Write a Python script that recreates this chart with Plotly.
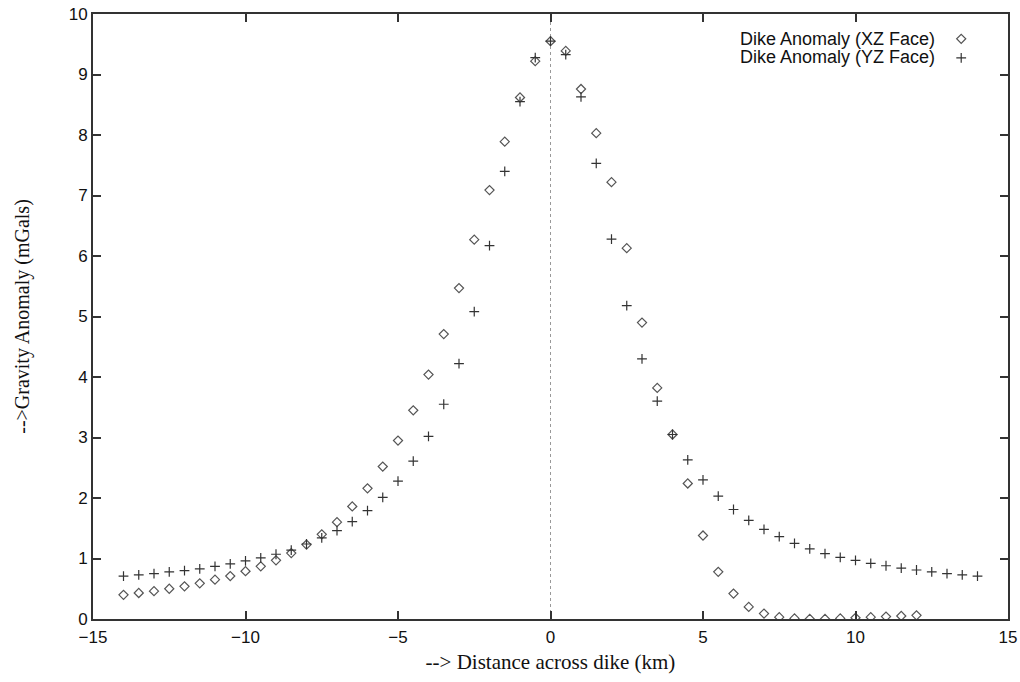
import plotly.graph_objects as go

x_xz = [-14 + 0.5 * i for i in range(53)]  # -14 .. 12
xz_vals = [0.40, 0.43, 0.46, 0.50, 0.54, 0.59, 0.65, 0.71, 0.79, 0.87,
           0.97, 1.09, 1.23, 1.40, 1.60, 1.86, 2.16, 2.52, 2.95, 3.45,
           4.04, 4.71, 5.47, 6.27, 7.09, 7.89, 8.62, 9.22, 9.55, 9.39,
           8.76, 8.03, 7.22, 6.13, 4.90, 3.82, 3.05, 2.24, 1.38, 0.78,
           0.42, 0.20, 0.09, 0.03, 0.01, 0.00, 0.00, 0.01, 0.02, 0.03,
           0.04, 0.05, 0.06]

x_yz = [-14 + 0.5 * i for i in range(57)]  # -14 .. 14
yz_vals = [0.71, 0.73, 0.75, 0.78, 0.80, 0.83, 0.87, 0.91, 0.96, 1.01,
           1.07, 1.14, 1.24, 1.34, 1.46, 1.61, 1.79, 2.01, 2.28, 2.61,
           3.02, 3.55, 4.22, 5.08, 6.17, 7.40, 8.55, 9.28, 9.55, 9.33,
           8.63, 7.53, 6.28, 5.18, 4.30, 3.60, 3.05, 2.63, 2.30, 2.03,
           1.81, 1.63, 1.48, 1.36, 1.25, 1.16, 1.08, 1.02, 0.97, 0.92,
           0.88, 0.84, 0.81, 0.78, 0.75, 0.73, 0.71]

series_names = ["Dike Anomaly (XZ Face)", "Dike Anomaly (YZ Face)"]
x_ticks = [-15, -10, -5, 0, 5, 10, 15]
y_ticks = list(range(0, 11))

fig = go.Figure()
fig.add_trace(go.Scatter(
    x=x_xz, y=xz_vals, mode="markers", name=" ",
    marker=dict(symbol="diamond-open", size=7, color="#555555",
                line=dict(width=1.2, color="#555555")),
))
fig.add_trace(go.Scatter(
    x=x_yz, y=yz_vals, mode="markers", name=" ",
    marker=dict(symbol="cross-thin-open", size=7, color="#333333",
                line=dict(width=1.2, color="#333333")),
))

# dotted zero line
fig.add_shape(type="line", x0=0, x1=0, y0=0, y1=10, xref="x", yref="y",
              line=dict(color="#999999", width=1, dash="dot"), layer="below")

# legend text (gnuplot style: text left of symbol)
for i, nm in enumerate(series_names):
    fig.add_annotation(text=nm, xref="paper", yref="paper",
                       x=0.9224, y=0.9587 - i * 0.0298, xanchor="right", yanchor="middle",
                       showarrow=False,
                       font=dict(family="Liberation Sans, Arial", size=18, color="#111111"))

axis_common = dict(
    showgrid=False, zeroline=False, showline=True, linecolor="#333333", linewidth=2,
    mirror="ticks", ticks="inside", ticklen=8, tickwidth=2, tickcolor="#333333",
    automargin=False, ticklabeloverflow="allow",
    tickfont=dict(family="Liberation Sans, Arial", size=17, color="#111111"),
)

fig.update_layout(
    width=1020, height=682,
    margin=dict(l=93, r=12, t=14, b=63),
    paper_bgcolor="white", plot_bgcolor="white",
    xaxis=dict(range=[-15, 15], tickvals=x_ticks, ticklabelstandoff=2,
               title=dict(text="--> Distance across dike (km)", standoff=8,
                          font=dict(family="Liberation Serif, Times New Roman", size=21, color="#111111")),
               **axis_common),
    yaxis=dict(range=[0, 10], tickvals=y_ticks,
               title=dict(text="-->Gravity Anomaly (mGals)", standoff=34,
                          font=dict(family="Liberation Serif, Times New Roman", size=20, color="#111111")),
               **axis_common),
    legend=dict(x=0.927, y=0.983, xanchor="left", yanchor="top",
                bgcolor="rgba(0,0,0,0)", tracegroupgap=0, itemwidth=30,
                font=dict(size=12)),
    showlegend=True,
)

fig.write_html("out.html", config={"displayModeBar": False},
               post_script="document.body.style.margin='0';document.body.style.overflow='hidden';")
